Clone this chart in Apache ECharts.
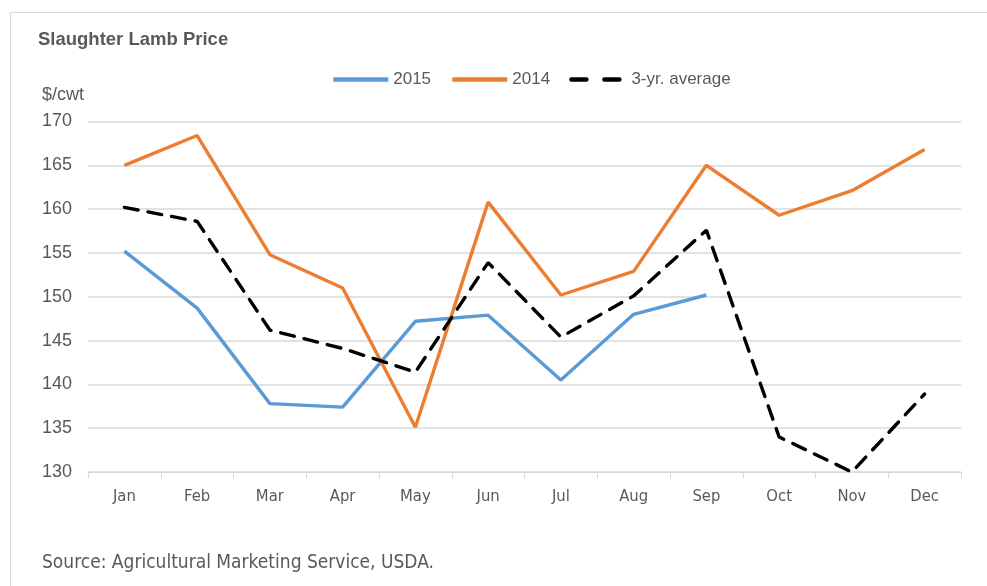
<!DOCTYPE html>
<html>
<head>
<meta charset="utf-8">
<script src="https://cdn.jsdelivr.net/npm/echarts@6/dist/echarts.min.js"></script>
<style>
  html, body { margin: 0; padding: 0; background: #fff; }
  #chart { width: 987px; height: 586px; }
</style>
</head>
<body>
<div id="chart"></div>
<script>
const months = ['Jan', 'Feb', 'Mar', 'Apr', 'May', 'Jun', 'Jul', 'Aug', 'Sep', 'Oct', 'Nov', 'Dec']
const price2015 = [155.2, 148.7, 137.8, 137.4, 147.2, 147.9, 140.5, 148.0, 150.2, null, null, null]
const price2014 = [165.0, 168.4, 154.8, 151.0, 135.1, 160.8, 150.2, 152.9, 165.0, 159.3, 162.1, 166.8]
const avg3yr = [160.2, 158.6, 146.2, 144.1, 141.4, 153.9, 145.4, 150.1, 157.6, 134.0, 130.0, 138.9]

const textColor = '#595959'
const gridColor = '#d9d9d9'

const chart = echarts.init(document.getElementById('chart'))
chart.setOption({
  animation: false,
  title: {
    text: 'Slaughter Lamb Price',
    left: 33,
    top: 25,
    textStyle: { fontFamily: 'Liberation Sans, Arial', fontSize: 18.5, fontWeight: 'bold', color: textColor },
  },
  legend: {
    top: 66,
    left: 326,
    itemWidth: 55,
    itemHeight: 12,
    itemGap: 19,
    itemStyle: { opacity: 0 },
    lineStyle: { width: 4.5 },
    textStyle: { fontFamily: 'Liberation Sans, Arial', fontSize: 17, color: textColor },
    data: [
      '2015',
      '2014',
      { name: '3-yr. average', lineStyle: { type: [15, 18], cap: 'round', width: 4.5 } },
    ],
  },
  grid: { left: 88, right: 26, top: 121.5, bottom: 114 },
  xAxis: {
    type: 'category',
    data: months,
    boundaryGap: true,
    axisLine: { lineStyle: { color: gridColor, width: 1 } },
    axisTick: { show: true, length: 6, lineStyle: { color: gridColor } },
    axisLabel: {
      margin: 16,
      fontFamily: 'Liberation Sans Narrow, DejaVu Sans Condensed, Arial',
      fontSize: 16.5,
      color: textColor,
    },
  },
  yAxis: {
    type: 'value',
    min: 130,
    max: 170,
    interval: 5,
    name: '$/cwt',
    nameLocation: 'end',
    nameGap: 17,
    nameTextStyle: { fontFamily: 'Liberation Sans, Arial', fontSize: 18, color: textColor, align: 'left', padding: [0, 0, 0, -46] },
    axisLine: { show: false },
    axisTick: { show: false },
    axisLabel: { margin: 16, fontFamily: 'Liberation Sans, Arial', fontSize: 18, color: textColor },
    splitLine: { lineStyle: { color: gridColor, width: 1.5 } },
  },
  series: [
    {
      name: '2015',
      type: 'line',
      data: price2015,
      symbol: 'none',
      lineStyle: { color: '#5b9bd5', width: 3.4 },
      itemStyle: { color: '#5b9bd5' },
    },
    {
      name: '2014',
      type: 'line',
      data: price2014,
      symbol: 'none',
      lineStyle: { color: '#ed7d31', width: 3.4 },
      itemStyle: { color: '#ed7d31' },
    },
    {
      name: '3-yr. average',
      type: 'line',
      data: avg3yr,
      symbol: 'none',
      lineStyle: { color: '#000', width: 3.4, type: [14, 10], cap: 'round' },
      itemStyle: { color: '#000' },
    },
  ],
  graphic: [
    {
      type: 'rect',
      left: 8,
      top: 10,
      shape: { width: 1000, height: 600 },
      style: { fill: 'none', stroke: '#d9d9d9', lineWidth: 1 },
      silent: true,
    },
    {
      type: 'text',
      left: 42,
      top: 554,
      style: {
        text: 'Source: Agricultural Marketing Service, USDA.',
        font: '19px "Liberation Sans Narrow", "DejaVu Sans Condensed", Arial',
        fill: textColor,
      },
    },
  ],
})
</script>
</body>
</html>
